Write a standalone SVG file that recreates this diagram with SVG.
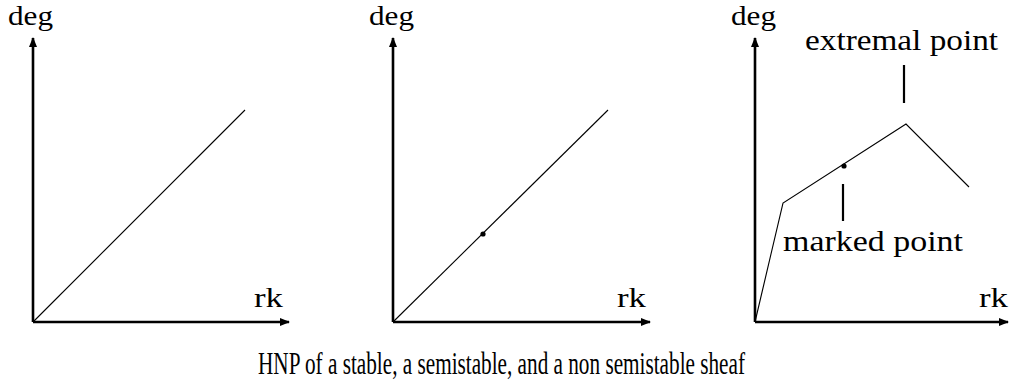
<svg xmlns="http://www.w3.org/2000/svg" width="1010" height="388" viewBox="0 0 1010 388">
<style>
text{font-family:"Liberation Serif","DejaVu Serif",serif;fill:#000}
.lb{font-size:28px}
.big{font-size:29px}
.cap{font-size:32px}
.ax{stroke:#000;stroke-width:2.6;fill:none}
.ln{stroke:#000;stroke-width:1.1;fill:none}
.tk{stroke:#000;stroke-width:2.2}
</style>
<defs>
<marker id="ah" viewBox="0 0 10 8" refX="9" refY="4" markerWidth="10" markerHeight="8" markerUnits="userSpaceOnUse" orient="auto">
<path d="M0,0 L10,4 L0,8 z" fill="#000"/>
</marker>
</defs>
<rect width="1010" height="388" fill="#fff"/>
<g id="panel1">
<path class="ax" d="M33,322 V38" marker-end="url(#ah)"/>
<path class="ax" d="M33,322 H289" marker-end="url(#ah)"/>
<path class="ln" d="M33,322 L245,110"/>
<text class="lb" x="8" y="25" textLength="45" lengthAdjust="spacingAndGlyphs">deg</text>
<text class="lb" x="254" y="307" textLength="29" lengthAdjust="spacingAndGlyphs">rk</text>
</g>
<g id="panel2">
<path class="ax" d="M393,322 V38" marker-end="url(#ah)"/>
<path class="ax" d="M393,322 H650" marker-end="url(#ah)"/>
<path class="ln" d="M393,322 L608,110"/>
<circle cx="483" cy="234" r="2.6" fill="#000"/>
<text class="lb" x="369" y="25" textLength="45" lengthAdjust="spacingAndGlyphs">deg</text>
<text class="lb" x="617" y="307" textLength="29" lengthAdjust="spacingAndGlyphs">rk</text>
</g>
<g id="panel3">
<path class="ax" d="M755,322 V38" marker-end="url(#ah)"/>
<path class="ax" d="M755,322 H1008" marker-end="url(#ah)"/>
<path class="ln" d="M755,322 L783,203 L906,124 L969,187"/>
<circle cx="844" cy="166" r="2.6" fill="#000"/>
<line class="tk" x1="843" y1="184" x2="843" y2="221"/>
<line class="tk" x1="904" y1="65" x2="904" y2="103"/>
<text class="lb" x="731" y="25" textLength="45" lengthAdjust="spacingAndGlyphs">deg</text>
<text class="big" x="805" y="50" textLength="193" lengthAdjust="spacingAndGlyphs">extremal point</text>
<text class="big" x="783" y="251" textLength="180" lengthAdjust="spacingAndGlyphs">marked point</text>
<text class="lb" x="979" y="307" textLength="29" lengthAdjust="spacingAndGlyphs">rk</text>
</g>
<g id="caption">
<text class="cap" x="258" y="374" textLength="487" lengthAdjust="spacingAndGlyphs">HNP of a stable, a semistable, and a non semistable sheaf</text>
</g>
</svg>
